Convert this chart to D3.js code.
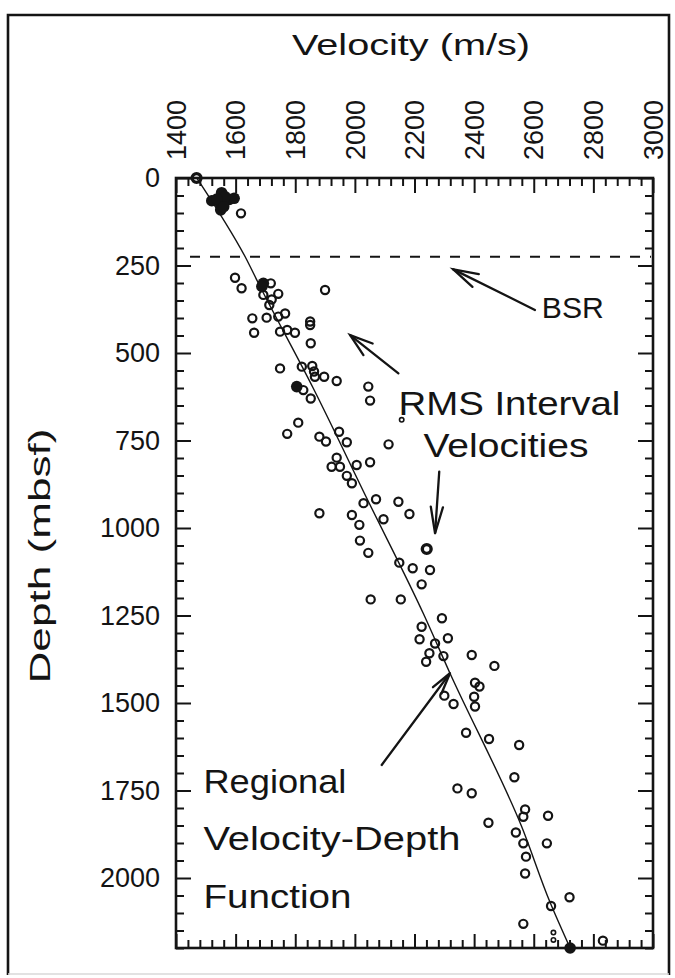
<!DOCTYPE html>
<html>
<head>
<meta charset="utf-8">
<script src="https://cdn.jsdelivr.net/npm/d3@7/dist/d3.min.js"></script>
<style>
  html, body { margin: 0; padding: 0; background: #fff; }
  svg { display: block; font-family: "Liberation Sans", Arial, Helvetica, sans-serif; }
</style>
</head>
<body>
<svg id="chart" width="675" height="978"></svg>
<script>
// ---- axis ticks ----
const velocityTicks = [1400, 1600, 1800, 2000, 2200, 2400, 2600, 2800, 3000];
const depthTicks = [0, 250, 500, 750, 1000, 1250, 1500, 1750, 2000];

// ---- RMS interval velocities (open circles) ----
const openVelocity = [
  1618, 1598, 1620, 1718, 1693, 1743, 1721, 1713, 1900, 1656,
  1704, 1743, 1766, 1662, 1749, 1773, 1799, 1850, 1850, 1852,
  1749, 1822, 1857, 1863, 1866, 1897, 1939, 1827, 2045, 2051,
  1852, 1810, 1773, 1881, 1903, 1947, 1973, 2113, 1939, 1922,
  1950, 2006, 2051, 1973, 1990, 2029, 2071, 2146, 2183, 1881,
  1990, 2015, 2096, 2017, 2045, 2149, 2194, 2252, 2224, 2053,
  2154, 2292, 2224, 2217, 2269, 2312, 2250, 2297, 2239, 2392,
  2468, 2403, 2418, 2400, 2403, 2300, 2331, 2373, 2450, 2551,
  2535, 2344, 2392, 2571, 2565, 2448, 2648, 2540, 2565, 2644,
  2574, 2571, 2720, 2658, 2565, 2832
];
const openDepth = [
  101, 285, 315, 301, 334, 331, 347, 363, 320, 401,
  399, 396, 387, 442, 439, 434, 442, 410, 420, 472,
  544, 539, 537, 553, 568, 568, 580, 606, 596, 636,
  630, 699, 731, 739, 753, 725, 755, 761, 799, 825,
  825, 820, 812, 851, 872, 929, 918, 925, 960, 958,
  963, 991, 975, 1036, 1071, 1099, 1115, 1120, 1161, 1204,
  1204, 1258, 1282, 1318, 1330, 1315, 1358, 1366, 1382, 1363,
  1394, 1442, 1453, 1482, 1510, 1479, 1503, 1585, 1603, 1620,
  1712, 1744, 1758, 1804, 1825, 1842, 1822, 1870, 1901, 1901,
  1939, 1987, 2055, 2080, 2131, 2179
];

// ---- solid points ----
const solidVelocity = [1553, 1520, 1548, 1550, 1579, 1595, 1564, 1537, 1560, 1693, 1688, 1805, 2722];
const solidDepth    = [  42,   65,   72,   91,   61,   58,   53,   60,   82,  301,  310,  596, 2200];

// heavy rings
const ringVelocity = [1469, 2241];
const ringDepth    = [   0, 1060];

// small faint marks
const dotVelocity = [2666, 2666, 2157];
const dotDepth    = [2156, 2177,  691];

// ---- regional velocity-depth function ----
const regionalDepth    = [   0,  225,  300,  600,  915, 1245, 1415, 1850, 2070, 2200];
const regionalVelocity = [1470, 1632, 1676, 1860, 2040, 2230, 2319, 2558, 2655, 2722];

// bottom-simulating reflector depth
const bsrDepth = 225;
const bsrStartVelocity = 1447;

// ---- layout ----
const ink = "#141414";
const plot = { left: 176, right: 653, top: 178, bottom: 948 };

const svg = d3.select("#chart");

const x = d3.scaleLinear().domain([1400, 3000]).range([plot.left, plot.right]);
const y = d3.scaleLinear().domain([0, 2200]).range([plot.top, plot.bottom]);

// outer frame of the figure
svg.append("path")
  .attr("d", "M8,975 L8,15 L669,15 L669,975")
  .attr("fill", "none").attr("stroke", ink).attr("stroke-width", 2.6);
svg.append("line")
  .attr("x1", 8).attr("x2", 669).attr("y1", 974).attr("y2", 974)
  .attr("stroke", "#d8d8d8").attr("stroke-width", 1.5);

// ---- axes (ticks point inward) ----
const minorDepth = d3.range(0, 2201, 50).filter(d => d % 250 !== 0);
const minorVel = d3.range(1400, 3001, 40).filter(d => d % 200 !== 0);

function styleAxis(g) {
  g.select(".domain").remove();
  g.selectAll(".tick line").attr("stroke", ink).attr("stroke-width", 2);
}

// left
svg.append("g").attr("transform", `translate(${plot.left},0)`)
  .call(d3.axisLeft(y).tickValues(minorDepth).tickSize(-8).tickFormat(""))
  .call(styleAxis);
svg.append("g").attr("transform", `translate(${plot.left},0)`)
  .call(d3.axisLeft(y).tickValues(depthTicks).tickSize(-15).tickPadding(16).tickFormat(d3.format("d")))
  .call(styleAxis)
  .call(g => g.selectAll("text")
    .attr("fill", ink).attr("font-size", 27)
    .attr("font-family", "'Liberation Sans', Arial, sans-serif"));

// right
svg.append("g").attr("transform", `translate(${plot.right},0)`)
  .call(d3.axisRight(y).tickValues(minorDepth).tickSize(-8).tickFormat(""))
  .call(styleAxis);
svg.append("g").attr("transform", `translate(${plot.right},0)`)
  .call(d3.axisRight(y).tickValues(depthTicks).tickSize(-15).tickFormat(""))
  .call(styleAxis);

// top
svg.append("g").attr("transform", `translate(0,${plot.top})`)
  .call(d3.axisTop(x).tickValues(minorVel).tickSize(-8).tickFormat(""))
  .call(styleAxis);
svg.append("g").attr("transform", `translate(0,${plot.top})`)
  .call(d3.axisTop(x).tickValues(velocityTicks).tickSize(-15).tickFormat(""))
  .call(styleAxis);

// bottom
svg.append("g").attr("transform", `translate(0,${plot.bottom})`)
  .call(d3.axisBottom(x).tickValues(minorVel).tickSize(-8).tickFormat(""))
  .call(styleAxis);
svg.append("g").attr("transform", `translate(0,${plot.bottom})`)
  .call(d3.axisBottom(x).tickValues(velocityTicks).tickSize(-14).tickFormat(""))
  .call(styleAxis);

// rotated velocity labels above the plot
svg.append("g").selectAll("text")
  .data(velocityTicks)
  .join("text")
  .attr("transform", d => `translate(${x(d)},${plot.top - 18}) rotate(-90)`)
  .attr("dy", "0.36em")
  .attr("text-anchor", "start")
  .attr("font-size", 27)
  .attr("fill", ink)
  .text(d => d);

// plot frame
svg.append("rect")
  .attr("x", plot.left).attr("y", plot.top)
  .attr("width", plot.right - plot.left).attr("height", plot.bottom - plot.top)
  .attr("fill", "none").attr("stroke", ink).attr("stroke-width", 2.6);

// axis titles
svg.append("text")
  .attr("x", 411).attr("y", 55)
  .attr("text-anchor", "middle")
  .attr("font-size", 30).attr("fill", ink)
  .attr("textLength", 238).attr("lengthAdjust", "spacingAndGlyphs")
  .text("Velocity (m/s)");

svg.append("text")
  .attr("transform", "translate(50,556) rotate(-90)")
  .attr("text-anchor", "middle")
  .attr("font-size", 30).attr("fill", ink)
  .attr("textLength", 255).attr("lengthAdjust", "spacingAndGlyphs")
  .text("Depth (mbsf)");

// ---- BSR dashed line ----
svg.append("line")
  .attr("x1", x(bsrStartVelocity)).attr("x2", plot.right - 2)
  .attr("y1", y(bsrDepth)).attr("y2", y(bsrDepth))
  .attr("stroke", ink).attr("stroke-width", 2)
  .attr("stroke-dasharray", "10,10");

// ---- regional function ----
const regional = regionalDepth.map((z, i) => ({ v: regionalVelocity[i], z }));
svg.append("path")
  .datum(regional)
  .attr("d", d3.line().x(d => x(d.v)).y(d => y(d.z)).curve(d3.curveMonotoneY))
  .attr("fill", "none").attr("stroke", ink).attr("stroke-width", 1.4);

// ---- data points ----
const openPts = openVelocity.map((v, i) => ({ v, z: openDepth[i] }));
svg.append("g").selectAll("circle")
  .data(openPts).join("circle")
  .attr("cx", d => x(d.v)).attr("cy", d => y(d.z)).attr("r", 4.1)
  .attr("fill", "none").attr("stroke", ink).attr("stroke-width", 2.2);

const solidPts = solidVelocity.map((v, i) => ({ v, z: solidDepth[i] }));
svg.append("g").selectAll("circle")
  .data(solidPts).join("circle")
  .attr("cx", d => x(d.v)).attr("cy", d => y(d.z)).attr("r", 5.8)
  .attr("fill", ink);

const ringPts = ringVelocity.map((v, i) => ({ v, z: ringDepth[i] }));
svg.append("g").selectAll("circle")
  .data(ringPts).join("circle")
  .attr("cx", d => x(d.v)).attr("cy", d => y(d.z)).attr("r", 4.4)
  .attr("fill", "none").attr("stroke", ink).attr("stroke-width", 3.4);

const dotPts = dotVelocity.map((v, i) => ({ v, z: dotDepth[i] }));
svg.append("g").selectAll("circle")
  .data(dotPts).join("circle")
  .attr("cx", d => x(d.v)).attr("cy", d => y(d.z)).attr("r", 2.2)
  .attr("fill", "none").attr("stroke", ink).attr("stroke-width", 1.6);

// ---- annotations (positions in data units) ----
const labels = [
  { text: "BSR",            v: 2627, z: 401,  size: 30, len: 62 },
  { text: "RMS Interval",   v: 2146, z: 677,  size: 34, len: 222 },
  { text: "Velocities",     v: 2230, z: 796,  size: 34, len: 165 },
  { text: "Regional",       v: 1492, z: 1758, size: 33, len: 143 },
  { text: "Velocity-Depth", v: 1492, z: 1920, size: 33, len: 257 },
  { text: "Function",       v: 1492, z: 2087, size: 33, len: 148 }
];
svg.append("g").selectAll("text")
  .data(labels).join("text")
  .attr("x", d => x(d.v)).attr("y", d => y(d.z))
  .attr("font-size", d => d.size).attr("fill", ink)
  .attr("textLength", d => d.len).attr("lengthAdjust", "spacingAndGlyphs")
  .text(d => d.text);

const arrows = [
  { v0: 2604, z0: 377,  v1: 2330, z1: 261,  head: 26, spread: 16 },
  { v0: 2146, z0: 558,  v1: 1984, z1: 449,  head: 24, spread: 18 },
  { v0: 2283, z0: 839,  v1: 2269, z1: 1015, head: 27, spread: 13 },
  { v0: 2090, z0: 1677, v1: 2319, z1: 1415, head: 22, spread: 14 }
];
const arrowG = svg.append("g")
  .attr("stroke", ink).attr("stroke-width", 2.3)
  .attr("fill", "none").attr("stroke-linecap", "round");
arrows.forEach(a => {
  const xa = x(a.v0), ya = y(a.z0), xb = x(a.v1), yb = y(a.z1);
  arrowG.append("line").attr("x1", xa).attr("y1", ya).attr("x2", xb).attr("y2", yb);
  const ang = Math.atan2(ya - yb, xa - xb);
  const s = a.spread * Math.PI / 180;
  const p1 = [xb + a.head * Math.cos(ang + s), yb + a.head * Math.sin(ang + s)];
  const p2 = [xb + a.head * Math.cos(ang - s), yb + a.head * Math.sin(ang - s)];
  arrowG.append("path").attr("d", `M${p1[0]},${p1[1]} L${xb},${yb} L${p2[0]},${p2[1]}`);
});
</script>
</body>
</html>
